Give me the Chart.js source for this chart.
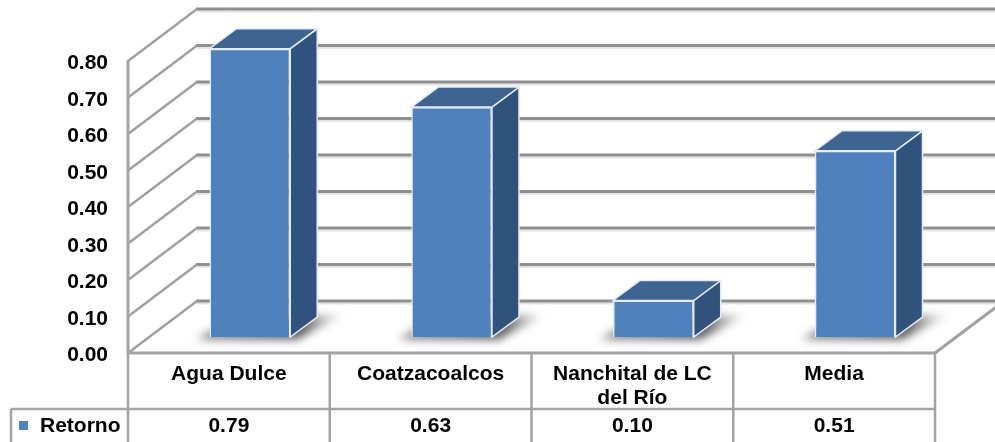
<!DOCTYPE html>
<html lang="es">
<head>
  <meta charset="utf-8">
  <title>Retorno</title>
  <script src="https://cdn.jsdelivr.net/npm/chart.js"></script>
  <style>
    html, body { margin: 0; padding: 0; background: #fff; overflow: hidden; }
    #chart { display: block; }
  </style>
</head>
<body>
  <canvas id="chart" width="995" height="442"></canvas>

  <script>
    const categories = [['Agua Dulce'], ['Coatzacoalcos'], ['Nanchital de LC', 'del Río'], ['Media']];
    const seriesName = 'Retorno';
    const retorno = [0.79, 0.63, 0.10, 0.51];

    const FONT = 'bold 21px "Liberation Sans", Arial, sans-serif';
    const GRID = '#8f8f8f';
    const TABLE = '#a3a3a3';
    const FRONT = '#4f81bd';
    const SIDE = '#31527c';
    const TOP = '#3e6491';

    // depth of the back wall and of the bar's front plane, seen from the axes
    const WALL = { dx: 69, dy: -52 };
    const BAR_OFFSET = { dx: 21, dy: -16 };
    const BAR_DEPTH = { dx: 27, dy: -20 };

    function line(ctx, x1, y1, x2, y2) {
      ctx.beginPath();
      ctx.moveTo(x1, y1);
      ctx.lineTo(x2, y2);
      ctx.stroke();
    }

    function poly(ctx, pts) {
      ctx.beginPath();
      pts.forEach((p, i) => i ? ctx.lineTo(p[0], p[1]) : ctx.moveTo(p[0], p[1]));
      ctx.closePath();
    }

    const walls = {
      id: 'walls',
      beforeDatasetsDraw(chart) {
        const ctx = chart.ctx;
        const { left, right, bottom } = chart.chartArea;
        const y = chart.scales.y;
        ctx.save();
        ctx.lineCap = 'butt';

        y.ticks.forEach(t => {
          const py = y.getPixelForValue(t.value);
          const by = py + WALL.dy;
          // soft line under each back wall gridline
          ctx.strokeStyle = '#e4e4e4';
          ctx.lineWidth = 2;
          line(ctx, left + WALL.dx, by + 2.5, chart.width, by + 2.5);
          ctx.strokeStyle = GRID;
          ctx.lineWidth = 3;
          line(ctx, left + WALL.dx - 1, by, chart.width, by);
          ctx.strokeStyle = '#a0a0a0';
          ctx.lineWidth = 2.5;
          line(ctx, left, py, left + WALL.dx, by);
        });

        // floor edge on the right
        ctx.strokeStyle = '#a0a0a0';
        ctx.lineWidth = 3;
        line(ctx, right, bottom, right + WALL.dx, bottom + WALL.dy);

        // axis lines
        ctx.strokeStyle = TABLE;
        ctx.lineWidth = 3;
        line(ctx, left, y.getPixelForValue(0.8) - 1, left, bottom + 1);
        line(ctx, left - 1, bottom, right + 1, bottom);

        // shadows on the floor
        const bars = chart.getDatasetMeta(0).data;
        ctx.filter = 'blur(4px)';
        bars.forEach(b => {
          const l = b.x - b.width / 2 + BAR_OFFSET.dx;
          const r = b.x + b.width / 2 + BAR_OFFSET.dx;
          const base = b.base + BAR_OFFSET.dy;
          const g = ctx.createLinearGradient(l - 20, 0, r + 56, 0);
          g.addColorStop(0, 'rgba(110,110,110,0)');
          g.addColorStop(0.12, 'rgba(110,110,110,0.8)');
          g.addColorStop(0.72, 'rgba(90,90,90,0.95)');
          g.addColorStop(1, 'rgba(150,150,150,0)');
          ctx.fillStyle = g;
          poly(ctx, [[l - 16, base + 3], [r + 6, base + 3], [r + 54, base - 22], [r + 20, base - 22], [l, base - 6]]);
          ctx.fill();
        });
        ctx.restore();
      }
    };

    const box3d = {
      id: 'box3d',
      beforeDatasetDraw(chart) {
        const ctx = chart.ctx;
        ctx.save();
        ctx.translate(BAR_OFFSET.dx, BAR_OFFSET.dy);
        // side and top go under the front face
        chart.getDatasetMeta(0).data.forEach(b => {
          const l = b.x - b.width / 2;
          const r = b.x + b.width / 2;
          const d = BAR_DEPTH;
          ctx.strokeStyle = '#e3ebf5';
          ctx.lineWidth = 1.5;
          ctx.fillStyle = SIDE;
          poly(ctx, [[r, b.y], [r + d.dx, b.y + d.dy], [r + d.dx, b.base + d.dy], [r, b.base]]);
          ctx.fill();
          ctx.stroke();
          ctx.fillStyle = TOP;
          poly(ctx, [[l, b.y], [l + d.dx, b.y + d.dy], [r + d.dx, b.y + d.dy], [r, b.y]]);
          ctx.fill();
          ctx.stroke();
        });
      },
      afterDatasetDraw(chart) {
        chart.ctx.restore();
      }
    };

    const dataTable = {
      id: 'dataTable',
      afterDraw(chart) {
        const ctx = chart.ctx;
        const { left, right, bottom } = chart.chartArea;
        const x = chart.scales.x;
        const rowY = 409;
        const end = chart.height;
        const cell = (right - left) / categories.length;

        ctx.save();
        ctx.strokeStyle = TABLE;
        ctx.lineWidth = 2.5;
        for (let i = 0; i <= categories.length; i++) {
          const px = left + cell * i;
          line(ctx, px, bottom, px, end);
        }
        line(ctx, 11, rowY, right, rowY);
        line(ctx, 11, rowY, 11, end);

        ctx.fillStyle = FRONT;
        ctx.fillRect(19, 421, 9, 9);

        ctx.fillStyle = '#000';
        ctx.font = FONT;
        ctx.textBaseline = 'middle';
        ctx.textAlign = 'left';
        ctx.fillText(seriesName, 40, 426);
        ctx.textAlign = 'center';
        retorno.forEach((v, i) => {
          ctx.fillText(v.toFixed(2), x.getPixelForValue(i), 426);
        });
        ctx.restore();
      }
    };

    new Chart(document.getElementById('chart'), {
      type: 'bar',
      data: {
        labels: categories,
        datasets: [{
          label: seriesName,
          data: retorno,
          backgroundColor: FRONT,
          borderColor: '#e3ebf5',
          borderWidth: 1.5,
          barPercentage: 0.4,
          categoryPercentage: 1,
          clip: false
        }]
      },
      options: {
        responsive: false,
        animation: false,
        layout: { padding: { top: 61, right: 60, left: 0, bottom: 0 } },
        plugins: { legend: { display: false }, tooltip: { enabled: false } },
        scales: {
          x: {
            grid: { display: false, drawTicks: false },
            border: { display: false },
            afterFit(s) { s.height = 89; },
            ticks: {
              color: '#000',
              maxRotation: 0,
              autoSkip: false,
              padding: 9,
              font: { family: '"Liberation Sans", Arial, sans-serif', size: 21, weight: 'bold', lineHeight: 1.15 }
            }
          },
          y: {
            min: 0,
            max: 0.8,
            grid: { display: false, drawTicks: false },
            border: { display: false },
            afterFit(s) { s.width = 128; },
            ticks: {
              stepSize: 0.1,
              color: '#000',
              padding: 20,
              labelOffset: 2.5,
              font: { family: '"Liberation Sans", Arial, sans-serif', size: 21, weight: 'bold' },
              callback: v => v.toFixed(2)
            }
          }
        }
      },
      plugins: [walls, box3d, dataTable]
    });
  </script>
</body>
</html>
